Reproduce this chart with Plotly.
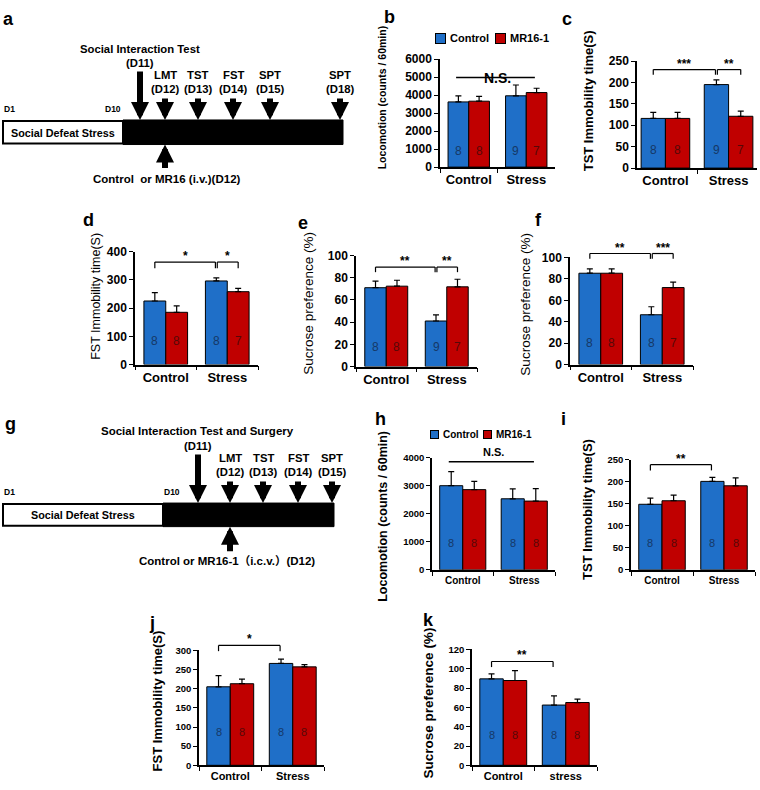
import plotly.graph_objects as go

# ---------------- data ----------------
categories = ["Control", "Stress"]
categories_k = ["Control", "stress"]

b_control = [3620, 3960]; b_control_sem = [340, 600]
b_mr16 = [3660, 4140];    b_mr16_sem = [270, 240]
b_n_control = [8, 9];     b_n_mr16 = [8, 7]

c_control = [116, 195];   c_control_sem = [14, 11]
c_mr16 = [116, 121];      c_mr16_sem = [14, 12]
c_n_control = [8, 9];     c_n_mr16 = [8, 7]

d_control = [225, 296];   d_control_sem = [30, 11]
d_mr16 = [185, 258];      d_mr16_sem = [23, 12]
d_n_control = [8, 8];     d_n_mr16 = [8, 7]

e_control = [71, 41];     e_control_sem = [6, 5.6]
e_mr16 = [72.4, 71.8];    e_mr16_sem = [5.3, 6.8]
e_n_control = [8, 9];     e_n_mr16 = [8, 7]

f_control = [85.3, 46.5]; f_control_sem = [4, 7.5]
f_mr16 = [85.3, 71.9];    f_mr16_sem = [4, 5.1]
f_n_control = [8, 8];     f_n_mr16 = [8, 7]

h_control = [3006, 2538]; h_control_sem = [503, 351]
h_mr16 = [2865, 2456];    h_mr16_sem = [293, 444]
h_n_control = [8, 8];     h_n_mr16 = [8, 8]

i_control = [149, 201];   i_control_sem = [14, 9]
i_mr16 = [157, 191];      i_mr16_sem = [13, 18]
i_n_control = [8, 8];     i_n_mr16 = [8, 8]

j_control = [205, 266];   j_control_sem = [29, 11]
j_mr16 = [213, 257];      j_mr16_sem = [12, 6]
j_n_control = [8, 8];     j_n_mr16 = [8, 8]

k_control = [89.5, 62.4]; k_control_sem = [5.1, 9.5]
k_mr16 = [87.8, 65];      k_mr16_sem = [10.2, 3.5]
k_n_control = [8, 8];     k_n_mr16 = [8, 8]

series_names = ["Control", "MR16-1"]

# schematic texts
a_events = ["LMT", "TST", "FST", "SPT", "SPT"]
a_days = ["(D12)", "(D13)", "(D14)", "(D15)", "(D18)"]
g_events = ["LMT", "TST", "FST", "SPT"]
g_days = ["(D12)", "(D13)", "(D14)", "(D15)"]

# ---------------- style ----------------
W, H = 760, 790
FONT = "Liberation Sans, Arial, Noto Sans CJK SC, sans-serif"
BLUE = "#1F6FC8"
RED = "#C00000"
NBLUE = "#163866"
NRED = "#560808"


def X(px):
    return px / W


def Y(py):
    return 1 - py / H


panels = [
    dict(ctrl=b_control, ctrl_sem=b_control_sem, mr=b_mr16, mr_sem=b_mr16_sem,
         n_ctrl=b_n_control, n_mr=b_n_mr16, cats=categories,
         xd=(440, 555), yd=(53, 163), ymax=6000, dtick=1000, xr=(-0.5, 1.5), w=0.36,
         tick=12, xtick=13, nsize=12, label_y=900,
         title="Locomotion (counts / 60min)", title_xy=(382, 92), title_size=10.5, title_bold=True,
         letter="b", letter_xy=(389, 10), brackets=[], ns=(4970, 5500)),
    dict(ctrl=c_control, ctrl_sem=c_control_sem, mr=c_mr16, mr_sem=c_mr16_sem,
         n_ctrl=c_n_control, n_mr=c_n_mr16, cats=categories,
         xd=(637, 757), yd=(55, 164), ymax=250, dtick=50, xr=(-0.45, 1.45), w=0.385,
         tick=12, xtick=13, nsize=12, label_y=42,
         title="TST Immobility time(S)", title_xy=(588, 96), title_size=13, title_bold=True,
         letter="c", letter_xy=(567, 12),
         brackets=[(0, 2, 230, 12, "***"), (2, 3, 230, 12, "**")], ns=None),
    dict(ctrl=d_control, ctrl_sem=d_control_sem, mr=d_mr16, mr_sem=d_mr16_sem,
         n_ctrl=d_n_control, n_mr=d_n_mr16, cats=categories,
         xd=(135, 258), yd=(249, 364), ymax=400, dtick=100, xr=(-0.5, 1.5), w=0.355,
         tick=12, xtick=13, nsize=12, label_y=84,
         title="FST Immobility time(S)", title_xy=(96, 295), title_size=12.5, title_bold=False,
         letter="d", letter_xy=(88, 217),
         brackets=[(0, 2, 363, 22, "*"), (2, 3, 363, 22, "*")], ns=None),
    dict(ctrl=e_control, ctrl_sem=e_control_sem, mr=e_mr16, mr_sem=e_mr16_sem,
         n_ctrl=e_n_control, n_mr=e_n_mr16, cats=categories,
         xd=(356, 477), yd=(253, 366), ymax=100, dtick=20, xr=(-0.5, 1.5), w=0.355,
         tick=12, xtick=13, nsize=12, label_y=18,
         title="Sucrose preference (%)", title_xy=(309, 302), title_size=13.5, title_bold=False,
         letter="e", letter_xy=(303, 220),
         brackets=[(0, 2, 89.6, 4.6, "**"), (2, 3, 89.6, 4.6, "**")], ns=None),
    dict(ctrl=f_control, ctrl_sem=f_control_sem, mr=f_mr16, mr_sem=f_mr16_sem,
         n_ctrl=f_n_control, n_mr=f_n_mr16, cats=categories,
         xd=(570, 693), yd=(255, 364), ymax=100, dtick=20, xr=(-0.5, 1.5), w=0.355,
         tick=12, xtick=13, nsize=12, label_y=20.5,
         title="Sucrose preference (%)", title_xy=(526, 303), title_size=13.5, title_bold=False,
         letter="f", letter_xy=(538, 217),
         brackets=[(0, 2, 103.7, 5, "**"), (2, 3, 103.7, 5, "***")], ns=None),
    dict(ctrl=h_control, ctrl_sem=h_control_sem, mr=h_mr16, mr_sem=h_mr16_sem,
         n_ctrl=h_n_control, n_mr=h_n_mr16, cats=categories,
         xd=(432, 555), yd=(459, 573), ymax=4000, dtick=1000, xr=(-0.5, 1.5), w=0.375,
         tick=9.5, xtick=10, nsize=11, label_y=970,
         title="Locomotion (counts / 60min)", title_xy=(383, 518), title_size=12.5, title_bold=True,
         letter="h", letter_xy=(381, 419), brackets=[], ns=(3860, 4210)),
    dict(ctrl=i_control, ctrl_sem=i_control_sem, mr=i_mr16, mr_sem=i_mr16_sem,
         n_ctrl=i_n_control, n_mr=i_n_mr16, cats=categories,
         xd=(631, 755), yd=(461, 573), ymax=250, dtick=50, xr=(-0.5, 1.5), w=0.375,
         tick=9.5, xtick=10, nsize=11, label_y=61,
         title="TST Immobility time(S)", title_xy=(588, 512), title_size=13, title_bold=True,
         letter="i", letter_xy=(563, 419),
         brackets=[(0, 2, 239, 13, "**")], ns=None),
    dict(ctrl=j_control, ctrl_sem=j_control_sem, mr=j_mr16, mr_sem=j_mr16_sem,
         n_ctrl=j_n_control, n_mr=j_n_mr16, cats=categories,
         xd=(199, 324), yd=(655, 772), ymax=300, dtick=50, xr=(-0.5, 1.5), w=0.375,
         tick=9.5, xtick=11, nsize=11, label_y=87,
         title="FST Immobility time(S)", title_xy=(157, 707), title_size=13, title_bold=True,
         letter="j", letter_xy=(152, 627),
         brackets=[(0, 2, 313, 15, "*")], ns=None),
    dict(ctrl=k_control, ctrl_sem=k_control_sem, mr=k_mr16, mr_sem=k_mr16_sem,
         n_ctrl=k_n_control, n_mr=k_n_mr16, cats=categories_k,
         xd=(472, 597), yd=(654, 772), ymax=120, dtick=20, xr=(-0.5, 1.5), w=0.375,
         tick=9.5, xtick=11, nsize=11, label_y=31,
         title="Sucrose preference (%)", title_xy=(428, 709), title_size=13.5, title_bold=True,
         letter="k", letter_xy=(428, 624),
         brackets=[(0, 2, 107.5, 5.8, "**")], ns=None),
]

fig = go.Figure()
annotations = []
shapes = []
layout_axes = {}


def bar_center(idx, w):
    # idx: 0=Control/ctrl, 1=Control/mr, 2=Stress/ctrl, 3=Stress/mr
    grp = idx // 2
    return grp - w / 2 if idx % 2 == 0 else grp + w / 2


def ypaper(p, v):
    # map a data value on the panel's y axis to paper coordinates (allows drawing above the range)
    top, bot = p["yd"]
    return Y(bot - v / p["ymax"] * (bot - top))


for k, p in enumerate(panels, start=1):
    xa, ya = f"x{k}", f"y{k}"
    w = p["w"]
    for vals, sem, color, name, off in [
        (p["ctrl"], p["ctrl_sem"], BLUE, series_names[0], -w),
        (p["mr"], p["mr_sem"], RED, series_names[1], 0),
    ]:
        fig.add_trace(go.Bar(
            x=p["cats"], y=vals, name=name, width=w, offset=off,
            marker=dict(color=color, line=dict(color="black", width=1)),
            error_y=dict(type="data", symmetric=False, array=sem, arrayminus=[0] * len(sem),
                         color="black", thickness=1.2, width=3),
            xaxis=xa, yaxis=ya, showlegend=False, hoverinfo="skip",
        ))
    # n labels inside bars
    for gi in range(len(p["cats"])):
        annotations.append(dict(x=gi - w / 2, y=p["label_y"], xref=xa, yref=ya, text=str(p["n_ctrl"][gi]),
                                showarrow=False, font=dict(family=FONT, size=p["nsize"], color=NBLUE)))
        annotations.append(dict(x=gi + w / 2, y=p["label_y"], xref=xa, yref=ya, text=str(p["n_mr"][gi]),
                                showarrow=False, font=dict(family=FONT, size=p["nsize"], color=NRED)))
    # significance brackets
    for (a, b, ytop, drop, lab) in p["brackets"]:
        xa0 = bar_center(a, w) + (0.015 if a == 2 else 0)
        xb0 = bar_center(b, w) - (0.015 if b == 2 else 0)
        line = dict(color="black", width=1.2)
        yt, yb = ypaper(p, ytop), ypaper(p, ytop - drop)
        shapes.append(dict(type="line", xref=xa, yref="paper", x0=xa0, x1=xb0, y0=yt, y1=yt, line=line))
        shapes.append(dict(type="line", xref=xa, yref="paper", x0=xa0, x1=xa0, y0=yt, y1=yb, line=line))
        shapes.append(dict(type="line", xref=xa, yref="paper", x0=xb0, x1=xb0, y0=yt, y1=yb, line=line))
        annotations.append(dict(x=(xa0 + xb0) / 2, y=yt, xref=xa, yref="paper", text=lab, showarrow=False,
                                yanchor="bottom", yshift=-3,
                                font=dict(family=FONT, size=12, color="black", weight="bold")))
    if p["ns"]:
        yl, yt = p["ns"]
        shapes.append(dict(type="line", xref=xa, yref="paper", x0=bar_center(0, w) - 0.04,
                           x1=bar_center(3, w) - 0.03, y0=ypaper(p, yl), y1=ypaper(p, yl),
                           line=dict(color="black", width=1.5)))
        annotations.append(dict(x=0.5, y=ypaper(p, yt), xref=xa, yref="paper", text="N.S.", showarrow=False,
                                font=dict(family=FONT, size=p["xtick"] + 1, color="black", weight="bold")))
    # axis title
    tx, ty = p["title_xy"]
    annotations.append(dict(x=X(tx), y=Y(ty), xref="paper", yref="paper", text=p["title"], textangle=-90,
                            showarrow=False, xanchor="center", yanchor="middle",
                            font=dict(family=FONT, size=p["title_size"], color="black",
                                      weight="bold" if p["title_bold"] else "normal")))
    # panel letter
    lx, ly = p["letter_xy"]
    annotations.append(dict(x=X(lx), y=Y(ly), xref="paper", yref="paper", text=p["letter"], showarrow=False,
                            xanchor="center", yanchor="middle",
                            font=dict(family=FONT, size=18, color="black", weight="bold")))

    sfx = "" if k == 1 else str(k)
    layout_axes["xaxis" + sfx] = dict(
        domain=[X(p["xd"][0]), X(p["xd"][1])], anchor=ya, type="category", range=list(p["xr"]),
        showline=True, linecolor="black", linewidth=1.5, ticks="outside", tickson="boundaries",
        ticklen=4, tickcolor="black", tickwidth=1.2, showgrid=False, zeroline=False,
        tickfont=dict(family=FONT, size=p["xtick"], color="black", weight="bold"), fixedrange=True,
    )
    layout_axes["yaxis" + sfx] = dict(
        domain=[Y(p["yd"][1]), Y(p["yd"][0])], anchor=xa, range=[0, p["ymax"]], dtick=p["dtick"],
        tickformat="d", showline=True, linecolor="black", linewidth=1.5, ticks="outside", ticklen=4,
        tickcolor="black", tickwidth=1.2, showgrid=False, zeroline=False,
        tickfont=dict(family=FONT, size=p["tick"], color="black", weight="bold"), fixedrange=True,
    )

# ---------------- legends (b and h) ----------------
for (sw_x, ly, size, fs) in [((440, 500), 32, 9, 11), ((435, 487), 435, 7, 10)]:
    for cx, col, name in [(sw_x[0], BLUE, series_names[0]), (sw_x[1], RED, series_names[1])]:
        annotations.append(dict(x=X(cx), y=Y(ly), xref="paper", yref="paper", text="", showarrow=False,
                                width=size, height=size, bgcolor=col, bordercolor="black", borderwidth=1,
                                borderpad=0, xanchor="center", yanchor="middle"))
        annotations.append(dict(x=X(cx + size / 2 + 3), y=Y(ly), xref="paper", yref="paper", text=name,
                                showarrow=False, xanchor="left", yanchor="middle",
                                font=dict(family=FONT, size=fs, color="black", weight="bold")))


# ---------------- schematics (a, g) ----------------
def txt(x, y, s, size=10, anchor="center", bold=True):
    annotations.append(dict(x=X(x), y=Y(y), xref="paper", yref="paper", text=s, showarrow=False,
                            xanchor=anchor, yanchor="middle",
                            font=dict(family=FONT, size=size, color="black",
                                      weight="bold" if bold else "normal")))


def arrow(x, y_tip, y_tail):
    annotations.append(dict(x=X(x), y=Y(y_tip), xref="paper", yref="paper", ax=0, ay=y_tail - y_tip,
                            axref="pixel", ayref="pixel", text="", showarrow=True, arrowhead=2,
                            arrowsize=0.6, arrowwidth=6, arrowcolor="black", standoff=0, startstandoff=0))


def timeline(y0, y1, x_start, x_split, x_end):
    shapes.append(dict(type="rect", xref="paper", yref="paper", x0=X(x_split), x1=X(x_end),
                       y0=Y(y1), y1=Y(y0), fillcolor="black", line=dict(color="black", width=1)))
    shapes.append(dict(type="rect", xref="paper", yref="paper", x0=X(x_start), x1=X(x_split),
                       y0=Y(y1 - 1), y1=Y(y0 + 1), fillcolor="white", line=dict(color="black", width=2)))


ST = 11.3  # schematic text size

# panel a
txt(8, 12, "a", size=18)
timeline(115, 140, 3, 123, 343)
txt(63, 128, "Social Defeat Stress", size=10.8)
txt(2, 104, "D1", size=8.5, anchor="left")
txt(113, 104, "D10", size=8.5)
txt(140, 43, "Social Interaction Test", size=ST)
txt(140, 57, "(D11)", size=ST)
arrow(140, 115, 65)
a_x = [165, 198, 233, 270, 340]
for xx, ev, dd in zip(a_x, a_events, a_days):
    txt(xx, 69, ev, size=ST)
    txt(xx, 83, dd, size=ST)
    arrow(xx, 115, 92)
arrow(165, 140, 165)
txt(167, 175, "Control  or MR16 (i.v.)(D12)", size=11.5)

# panel g
txt(10, 425, "g", size=18)
timeline(505, 529, 3, 163, 334)
txt(83, 517, "Social Defeat Stress", size=10.8)
txt(2, 494, "D1", size=8.5, anchor="left")
txt(172, 494, "D10", size=8.5)
txt(198, 432, "Social Interaction Test and Surgery", size=11.5)
txt(198, 447, "(D11)", size=ST)
arrow(198, 505, 455)
g_x = [230, 263, 298, 332]
for xx, ev, dd in zip(g_x, g_events, g_days):
    txt(xx, 459, ev, size=ST)
    txt(xx, 473, dd, size=ST)
    arrow(xx, 505, 482)
arrow(230, 529, 555)
txt(227, 563, "Control or MR16-1（i.c.v.）(D12)", size=11.5)

fig.update_layout(
    width=W, height=H, margin=dict(l=0, r=0, t=0, b=0),
    paper_bgcolor="white", plot_bgcolor="white", barmode="overlay",
    font=dict(family=FONT, color="black"),
    annotations=annotations, shapes=shapes, showlegend=False,
    **layout_axes,
)

fig.write_html("out.html", config={"displayModeBar": False},
               post_script="document.body.style.margin='0px';document.body.style.overflow='hidden';")
